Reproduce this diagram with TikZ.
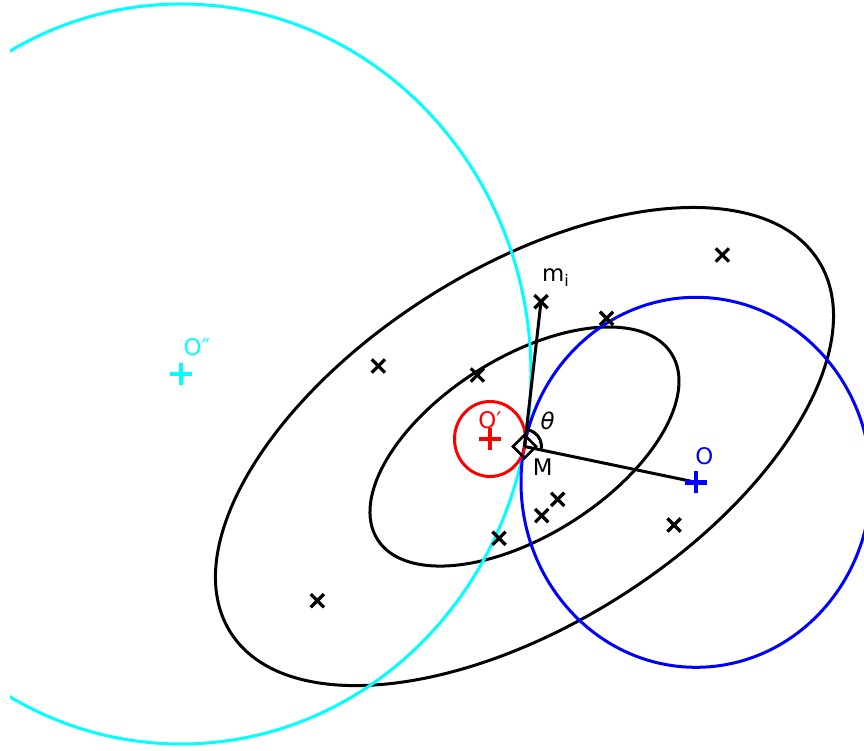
\documentclass[tikz,border=0pt]{standalone}
\usepackage{fontspec}
\setmainfont{DejaVu Sans}
\usetikzlibrary{shapes.misc, calc}
\definecolor{aqua}{RGB}{0,255,255}
\definecolor{pureblue}{RGB}{0,0,255}
\definecolor{purered}{RGB}{255,0,0}

\begin{document}
\begin{tikzpicture}[x=0.02cm, y=0.02cm,
    % Define the style for the sample points
    sample/.style={cross out, draw=black, line width=0.065cm, minimum size=0.2cm, inner sep=0pt},
    % Define the style for the curves and the centre marks
    curve/.style={line width=0.06cm},
    centremark/.style={line width=0.09cm},
    lbl/.style={font=\fontsize{13}{15}\selectfont, inner sep=0pt}
]

\useasboundingbox (0,0) rectangle (864,750);
\clip (10,0) rectangle (864,750);

% Define the points
\coordinate (M) at (524.5,303.5);
\coordinate (O) at (696,267.7);
\coordinate (O1) at (490,311);
\coordinate (O2) at (181,376);

% Draw the ellipses
\draw[curve, rotate around={32.3:(M)}] (M) ellipse [x radius=347.8, y radius=177.9];
\draw[curve, rotate around={32.3:(M)}] (M) ellipse [x radius=173.9, y radius=88.95];

% Draw the circles
\draw[curve, aqua] (O2) ellipse [x radius=350, y radius=370];
\draw[curve, pureblue] (O) ellipse [x radius=175, y radius=185];
\draw[curve, purered] (O1) ellipse [x radius=35.5, y radius=37.5];

% Add the sample points
\node[sample] (mi) at (541,448.3) {};
\node[sample] (s1) at (722.3,495) {};
\node[sample] (s2) at (606.5,431.7) {};
\node[sample] (s3) at (378.3,384) {};
\node[sample] (s4) at (477.3,375) {};
\node[sample] (s5) at (557.7,250.7) {};
\node[sample] (s6) at (541.7,234.3) {};
\node[sample] (s7) at (499,211.7) {};
\node[sample] (s8) at (674,225) {};
\node[sample] (s9) at (317.3,149.3) {};

% Draw the lines
\draw[curve] (M) -- (mi.center);
\draw[curve] (M) -- (O);
\draw[curve] ($(M)+(83.5:17)$) arc[start angle=83.5, end angle=-11.8, radius=17];
\draw[line width=0.05cm] ($(M)+(-11.5,0)$) -- ($(M)+(0,11.5)$) -- ($(M)+(11.5,0)$) -- ($(M)+(0,-11.5)$) -- cycle;

% Mark the centres
\draw[centremark, pureblue] ($(O)+(-11,0)$) -- ($(O)+(11,0)$) ($(O)+(0,-11)$) -- ($(O)+(0,11)$);
\draw[centremark, purered] ($(O1)+(-11,0)$) -- ($(O1)+(11,0)$) ($(O1)+(0,-11)$) -- ($(O1)+(0,11)$);
\draw[centremark, aqua] ($(O2)+(-11,0)$) -- ($(O2)+(11,0)$) ($(O2)+(0,-11)$) -- ($(O2)+(0,11)$);

% Add the labels
\node[lbl] (lmi) at (556,472) {m\textsubscript{i}};
\node[lbl] (ltheta) at (547.7,329) {\itshape θ};
\node[lbl] (lM) at (542.7,283.3) {M};
\node[lbl, pureblue] (lO) at (704.3,294.3) {O};
\node[lbl, purered] (lO1) at (490,330) {O′};
\node[lbl, aqua] (lO2) at (197,403) {O″};

\end{tikzpicture}
\end{document}
